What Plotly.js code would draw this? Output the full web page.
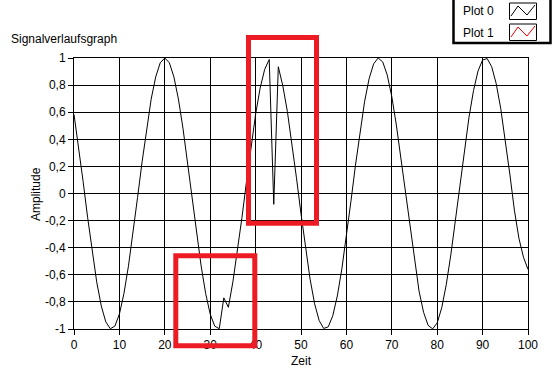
<!DOCTYPE html>
<html><head><meta charset="utf-8">
<script src="https://cdn.plot.ly/plotly-3.0.1.min.js"></script>
<style>html,body{margin:0;padding:0;background:#fff;} #chart{width:552px;height:372px;}</style>
</head><body><div id="chart"></div>
<script>
const zeit = [0,1,2,3,4,5,6,7,8,9,10,11,12,13,14,15,16,17,18,19,20,21,22,23,24,25,26,27,28,29,30,31,32,33,34,35,36,37,38,39,40,41,42,43,44,45,46,47,48,49,50,51,52,53,54,55,56,57,58,59,60,61,62,63,64,65,66,67,68,69,70,71,72,73,74,75,76,77,78,79,80,81,82,83,84,85,86,87,88,89,90,91,92,93,94,95,96,97,98,99,100];
const plot0 = [0.584,0.349,0.090,-0.176,-0.429,-0.652,-0.829,-0.947,-0.998,-0.979,
  -0.890,-0.738,-0.534,-0.293,-0.030,0.234,0.482,0.697,0.861,0.965,
  1.000,0.965,0.861,0.697,0.482,0.234,-0.030,-0.293,-0.534,-0.738,
  -0.890,-0.979,-0.998,-0.770,-0.840,-0.652,-0.429,-0.176,0.090,0.349,
  0.584,0.778,0.916,0.989,-0.080,0.935,0.794,0.605,0.374,0.116,
  -0.150,-0.405,-0.632,-0.814,-0.938,-0.996,-0.984,-0.902,-0.756,-0.556,
  -0.318,-0.057,0.209,0.459,0.677,0.847,0.957,1.000,0.971,0.874,
  0.715,0.506,0.260,-0.003,-0.267,-0.512,-0.720,-0.877,-0.973,-0.999,
  -0.955,-0.843,-0.672,-0.453,-0.202,0.063,0.324,0.562,0.760,0.905,
  0.985,0.996,0.936,0.810,0.626,0.399,0.143,-0.123,-0.330,-0.470,-0.560];
const plot1X = [];
const plot1Y = [];
const xTickVals = [0,10,20,30,40,50,60,70,80,90,100];
const xTickText = ['0','10','20','30','40','50','60','70','80','90','100'];
const yTickVals = [-1,-0.8,-0.6,-0.4,-0.2,0,0.2,0.4,0.6,0.8,1];
const yTickText = ['-1','-0,8','-0,6','-0,4','-0,2','0','0,2','0,4','0,6','0,8','1'];
const seriesNames = ['Plot 0','Plot 1'];
const seriesColors = ['#000000','#ff0000'];
const chartTitle = 'Signalverlaufsgraph';
const xTitle = 'Zeit';
const yTitle = 'Amplitude';

const L = 74, T = 58, W = 454, H = 271, R = 552 - L - W, B = 372 - T - H;
const px = p => (p - L) / W;
const py = p => (T + H - p) / H;
const FONT = 'Liberation Sans, Arial, sans-serif';
const RED = '#ed1c24';

function rect(x0, y0, x1, y1, color, width) {
  return {type:'rect', xref:'paper', yref:'paper', x0:px(x0), x1:px(x1), y0:py(y1), y1:py(y0),
    line:{color:color, width:width}, fillcolor:'rgba(0,0,0,0)', layer:'above'};
}
function zig(pts, color) {
  let d = pts.map((p,i)=>(i?'L':'M')+px(p[0]).toFixed(5)+' '+py(p[1]).toFixed(5)).join(' ');
  return {type:'path', xref:'paper', yref:'paper', path:d, line:{color:color, width:1}, layer:'above'};
}

const traces = [
  {x: zeit, y: plot0, type:'scatter', mode:'lines', name:seriesNames[0],
   line:{color:seriesColors[0], width:1}, showlegend:false},
  {x: plot1X, y: plot1Y, type:'scatter', mode:'lines', name:seriesNames[1],
   line:{color:seriesColors[1], width:1}, showlegend:false}
];

const shapes = [
  rect(453.5, -2, 550.5, 43, '#000', 2.5),
  rect(509.5, 3, 536.5, 19.5, '#000', 1),
  rect(509.5, 24, 536.5, 40.5, '#000', 1),
  zig([[511,16],[518,6],[527,15],[535,5]], seriesColors[0]),
  zig([[511,37],[518,27],[527,36],[535,26]], seriesColors[1]),
  rect(248.5, 37.5, 316.5, 223.2, RED, 5),
  rect(175.8, 255.8, 254.8, 345.8, RED, 5)
];

const annotations = [
  {text: chartTitle, xref:'paper', yref:'paper', x:px(9), y:py(39.5), xanchor:'left', yanchor:'middle', showarrow:false, font:{family:FONT, size:12, color:'#000'}},
  {text: yTitle, xref:'paper', yref:'paper', x:px(36), y:py(194), xanchor:'center', yanchor:'middle', textangle:-90, showarrow:false, font:{family:FONT, size:12, color:'#000'}},
  {text: xTitle, xref:'paper', yref:'paper', x:px(301), y:py(361), xanchor:'center', yanchor:'middle', showarrow:false, font:{family:FONT, size:12, color:'#000'}},
  {text: seriesNames[0], xref:'paper', yref:'paper', x:px(478), y:py(11), xanchor:'center', yanchor:'middle', showarrow:false, font:{family:FONT, size:12, color:'#000'}},
  {text: seriesNames[1], xref:'paper', yref:'paper', x:px(478), y:py(32.5), xanchor:'center', yanchor:'middle', showarrow:false, font:{family:FONT, size:12, color:'#000'}}
];

const axisCommon = {showgrid:true, gridcolor:'#000', gridwidth:1, showline:true, linecolor:'#000', linewidth:1,
  mirror:true, ticks:'outside', ticklen:5, tickcolor:'#000', tickwidth:1, zeroline:false,
  tickfont:{family:FONT, size:12, color:'#000'}, fixedrange:true};

const layout = {
  width:552, height:372, margin:{l:L, r:R, t:T, b:B, pad:0},
  paper_bgcolor:'#fff', plot_bgcolor:'#fff', showlegend:false,
  xaxis: Object.assign({}, axisCommon, {range:[0,100], tickmode:'array', tickvals:xTickVals, ticktext:xTickText}),
  yaxis: Object.assign({}, axisCommon, {range:[-1,1], tickmode:'array', tickvals:yTickVals, ticktext:yTickText}),
  shapes: shapes, annotations: annotations
};

Plotly.newPlot('chart', traces, layout, {staticPlot:true, displayModeBar:false});
</script>
</body></html>
